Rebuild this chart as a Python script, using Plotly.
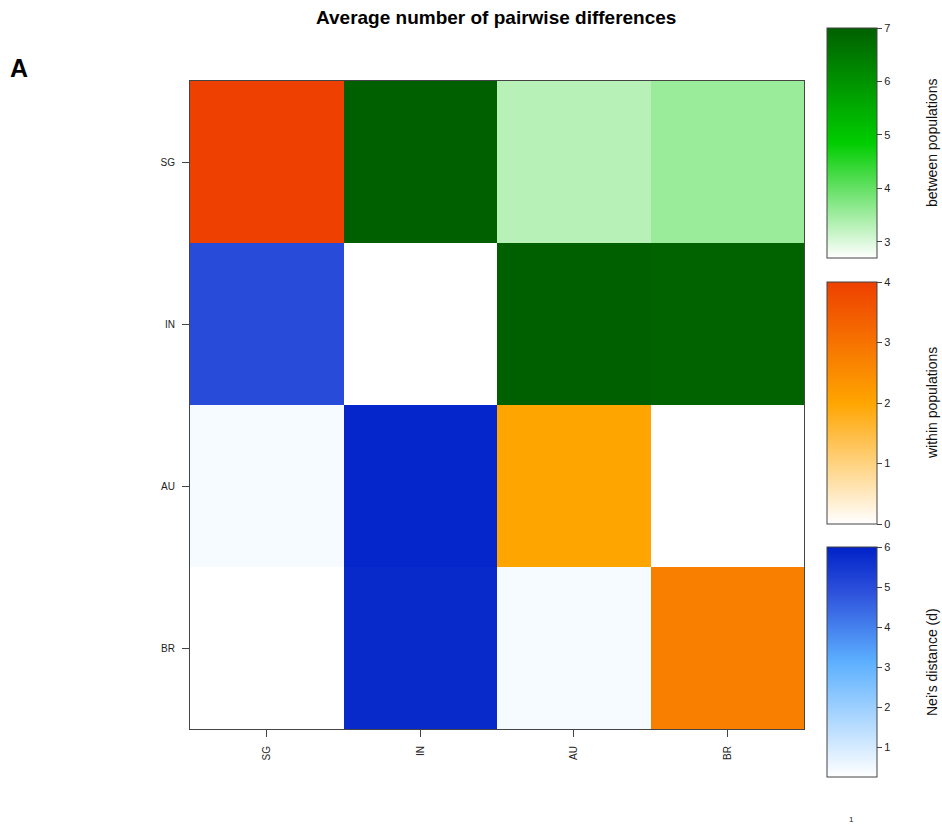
import numpy as np
import plotly.graph_objects as go

# Populations (rows top-to-bottom, columns left-to-right)
pops = ["SG", "IN", "AU", "BR"]

# Average pairwise differences between populations (upper triangle)
between_pairs = {("SG", "IN"): 7.0, ("SG", "AU"): 3.3, ("SG", "BR"): 3.55,
                 ("IN", "AU"): 7.0, ("IN", "BR"): 6.95, ("AU", "BR"): 2.7}
# Average pairwise differences within populations (diagonal)
within_vals = {"SG": 4.0, "IN": 0.0, "AU": 2.0, "BR": 2.75}
# Nei's distance (lower triangle)
nei_pairs = {("IN", "SG"): 5.0, ("AU", "SG"): 0.4, ("AU", "IN"): 5.9,
             ("BR", "SG"): 0.25, ("BR", "IN"): 5.8, ("BR", "AU"): 0.4}

# Colour bar labels
bar_titles = ["between populations", "within populations", "Nei's distance (d)"]

n = len(pops)
idx = {p: i for i, p in enumerate(pops)}

def matrix(entries):
    m = np.full((n, n), np.nan)
    for (r, c), v in entries.items():
        m[idx[r], idx[c]] = v
    return m

z_between = matrix(between_pairs)
z_within = matrix({(p, p): v for p, v in within_vals.items()})
z_nei = matrix(nei_pairs)

W, H = 942, 827
def px(x):
    return x / W
def py(y):
    return 1 - y / H

green_scale = [[0, "#FFFFFF"], [0.5, "#00CD00"], [1, "#006000"]]
orange_scale = [[0, "#FFFFFF"], [0.5, "#FFA500"], [1, "#EE4000"]]
blue_scale = [[0, "#FFFFFF"], [0.5, "#5CB0FF"], [0.8, "#2E52DC"], [1, "#0022C8"]]

# (top, length) of each colour bar in pixels
bar_geom = [(28, 230), (282, 242), (547, 230)]

def cbar(top, length):
    return dict(
        x=px(827), xanchor="left", xpad=0,
        y=py(top), yanchor="top", ypad=0,
        len=length, lenmode="pixels",
        thickness=50, thicknessmode="pixels",
        outlinewidth=1, outlinecolor="#444",
        ticks="outside", ticklen=5, tickcolor="#444",
        tickfont=dict(size=11, color="#222"), dtick=1,
    )

xs = list(range(n))
fig = go.Figure()
fig.add_trace(go.Heatmap(z=z_between, x=xs, y=xs, colorscale=green_scale,
                         zmin=2.7, zmax=7, colorbar=cbar(*bar_geom[0]), hoverongaps=False))
fig.add_trace(go.Heatmap(z=z_within, x=xs, y=xs, colorscale=orange_scale,
                         zmin=0, zmax=4, colorbar=cbar(*bar_geom[1]), hoverongaps=False))
fig.add_trace(go.Heatmap(z=z_nei, x=xs, y=xs, colorscale=blue_scale,
                         zmin=0.25, zmax=6, colorbar=cbar(*bar_geom[2]), hoverongaps=False))

axis_common = dict(showline=True, linecolor="#444", linewidth=1, mirror=True,
                   ticks="outside", ticklen=7, tickcolor="#444", ticklabelstandoff=5,
                   tickfont=dict(size=10, color="#222"), showgrid=False, zeroline=False,
                   tickvals=xs, ticktext=pops)

annotations = [
    dict(text="<b>Average number of pairwise differences</b>", x=px(496), y=py(18),
         xanchor="center", yanchor="middle", font=dict(size=19, color="#000")),
    dict(text="<b>A</b>", x=px(19), y=py(68), xanchor="center", yanchor="middle",
         font=dict(size=25, color="#000")),
    dict(text="1", x=px(851), y=py(819), xanchor="center", yanchor="middle",
         font=dict(size=8, color="#222")),
]
for title, (top, length) in zip(bar_titles, bar_geom):
    annotations.append(dict(text=title, x=px(932), y=py(top + length / 2),
                            xanchor="center", yanchor="middle", textangle=-90,
                            font=dict(size=14, color="#111")))
for a in annotations:
    a.update(xref="paper", yref="paper", showarrow=False)

fig.update_layout(
    width=W, height=H,
    margin=dict(l=0, r=0, t=0, b=0),
    paper_bgcolor="white", plot_bgcolor="white",
    font=dict(family="Liberation Sans, Arial, sans-serif"),
    xaxis=dict(domain=[px(190), px(804)], range=[-0.5, 3.5], tickangle=-90, **axis_common),
    yaxis=dict(domain=[py(729), py(81)], range=[3.5, -0.5], **axis_common),
    annotations=annotations,
)

fig.write_html("out.html")
